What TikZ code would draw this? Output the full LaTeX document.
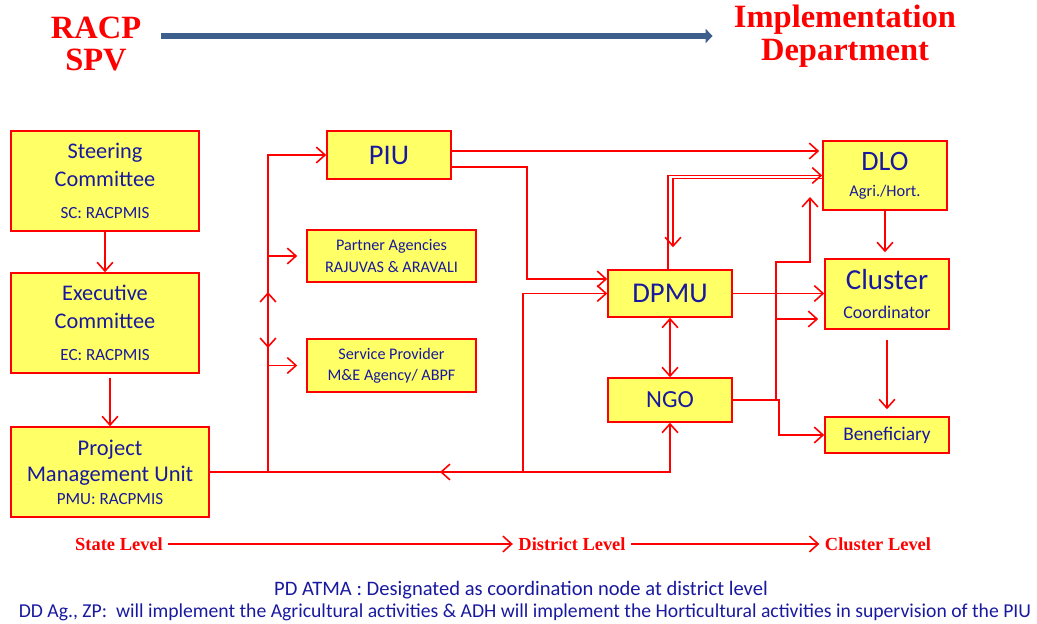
\documentclass[tikz,border=0pt]{standalone}
\usepackage{fontspec}
\setmainfont{Carlito}
\newfontfamily\headfont{Liberation Serif}
\usetikzlibrary{arrows.meta, positioning}

\definecolor{boxyellow}{RGB}{255,255,102}
\definecolor{txtblue}{RGB}{25,25,160}
\definecolor{hdrblue}{RGB}{60,95,140}
\newcommand{\sz}[2]{\fontsize{#1pt}{#2pt}\selectfont}

\tikzset{
  unit/.style={draw=red, fill=boxyellow, line width=0.9pt, text=txtblue, align=center, inner sep=0pt},
  link/.style={draw=red, line width=0.9pt},
  headtxt/.style={text=red, align=center, inner sep=0pt, font=\headfont\bfseries\sz{18.5}{18.5}},
  lvl/.style={text=red, inner sep=3pt, font=\headfont\bfseries\sz{10.5}{12}},
  note/.style={text=txtblue, inner sep=0pt},
}

\begin{document}
\begin{tikzpicture}[x=0.02cm, y=-0.02cm, >={Straight Barb[length=5pt,width=9pt]}]
      \useasboundingbox (0,0) rectangle (1037,624);

      % header
      \node[headtxt] (racp) at (96,44) {RACP\\SPV};
      \node[headtxt] (impl) at (845,36) {Implementation\\Department};
      \draw[draw=hdrblue, line width=3.2pt, -{Triangle[length=4pt,width=8pt]}]
        ([xshift=0.4cm]racp.east |- impl.west) -- ([xshift=-0.42cm]impl.west);

      % state level
      \node[unit, minimum width=3.76cm, minimum height=2cm, font=\sz{12.7}{16}] (sc) at (105,181)
        {Steering\\Committee\\[2pt]\sz{9.7}{16}SC: RACPMIS};
      \node[unit, minimum width=3.76cm, minimum height=2cm, font=\sz{12.7}{16}] (ec) at (105,323)
        {Executive\\Committee\\[2pt]\sz{9.7}{16}EC: RACPMIS};
      \node[unit, minimum width=3.96cm, minimum height=1.8cm, font=\sz{12.8}{14.7}] (pmu) at (110,472)
        {Project\\Management Unit\\[-1.6pt]\sz{9.7}{14.7}PMU: RACPMIS};
      \node[unit, minimum width=2.48cm, minimum height=0.96cm, font=\sz{16.2}{18}] (piu) at (389,155) {PIU};
      \node[unit, minimum width=3.38cm, minimum height=1.04cm, font=\sz{9.2}{12}] (pa) at (391.5,256)
        {Partner Agencies\\RAJUVAS \& ARAVALI};
      \node[unit, minimum width=3.38cm, minimum height=1.06cm, font=\sz{9.2}{12}] (sp) at (391.5,365.5)
        {Service Provider\\M\&E Agency/ ABPF};

      % district level
      \node[unit, minimum width=2.48cm, minimum height=0.94cm, font=\sz{16.3}{18}] (dpmu) at (670,293.5) {DPMU};
      \node[unit, minimum width=2.48cm, minimum height=0.88cm, font=\sz{14}{16}] (ngo) at (670,400) {NGO};

      % cluster level
      \node[unit, minimum width=2.48cm, minimum height=1.38cm, font=\sz{16}{15}] (dlo) at (885,175.5)
        {DLO\\\sz{9.3}{15}Agri./Hort.};
      \node[unit, minimum width=2.48cm, minimum height=1.4cm, font=\sz{16.5}{16}] (cluster) at (887,294)
        {Cluster\\\sz{10.2}{16}Coordinator};
      \node[unit, minimum width=2.48cm, minimum height=0.72cm, font=\sz{11}{13}] (ben) at (887,435) {Beneficiary};

      % junctions
      \coordinate (bus) at (268,472);
      \coordinate (busup) at (268,292);
      \coordinate (busdn) at (268,348);
      \coordinate (dj) at (523,472);
      \coordinate (back) at (440,472);
      \coordinate (pj) at (527,279);
      \coordinate (nj1) at (776,262);
      \coordinate (nj2) at (776,319);
      \coordinate (dlotip) at (810,197);
      \coordinate (bj) at (779,435);

      \draw[link, ->] (sc) -- (ec);
      \draw[link, ->] ([yshift=-0.08cm]pmu.north |- ec.south) -- (pmu.north);
      \draw[link, ->] (pmu.east) -| (ngo.south);
      \draw[link, ->] (bus) |- (piu.west);
      \draw[link, ->] (bus |- pa.west) -- ([xshift=-0.18cm]pa.west);
      \draw[link, ->] (bus |- sp.west) -- ([xshift=-0.18cm]sp.west);
      \draw[link, <->] (busup) -- (busdn);
      \draw[link, ->] (dj) |- (dpmu.west);
      \draw[link, ->] (dj) -- (back);
      \draw[link, ->] ([yshift=0.08cm]piu.east) -- ([yshift=0.08cm,xshift=-0.06cm]piu.east -| dlo.west);
      \draw[link, ->] ([yshift=-0.24cm]piu.east) -| (pj) -- (pj -| dpmu.west);
      \draw[link, ->] ([xshift=-0.04cm]dpmu.north) |- (dlo.west);
      \draw[link, ->] ([yshift=-0.06cm]dlo.west) -| ([xshift=0.06cm,yshift=0.44cm]dpmu.north);
      \draw[link, ->] (dpmu.east) -- (dpmu.east -| cluster.west);
      \draw[link, <->] (dpmu) -- (ngo);
      \draw[link, ->] (ngo.east) -| (nj1) -| (dlotip);
      \draw[link, ->] (nj2) -- ([xshift=-0.12cm]nj2 -| cluster.west);
      \draw[link, ->] (ngo.east) -| (bj) -- (ben.west);
      \draw[link, ->] (dlo.south) -- ([yshift=0.12cm]dlo.south |- cluster.north);
      \draw[link, ->] ([yshift=-0.2cm]cluster.south) -- ([yshift=0.14cm]cluster.south |- ben.north);

      % levels
      \node[lvl] (state) at (119,544) {State Level};
      \node[lvl] (district) at (572,544) {District Level};
      \node[lvl] (cluslvl) at (878,544) {Cluster Level};
      \draw[link, ->] (state) -- (district);
      \draw[link, ->] (district) -- (cluslvl);

      % notes
      \node[note, font=\sz{11.7}{14}] (n1) at (521,590) {PD ATMA : Designated as coordination node at district level};
      \node[note, font=\sz{11.2}{14}] (n2) at (525,612) {DD Ag., ZP:\ \ will implement the Agricultural activities \& ADH will implement the Horticultural activities in supervision of the PIU};

    \end{tikzpicture}
\end{document}
